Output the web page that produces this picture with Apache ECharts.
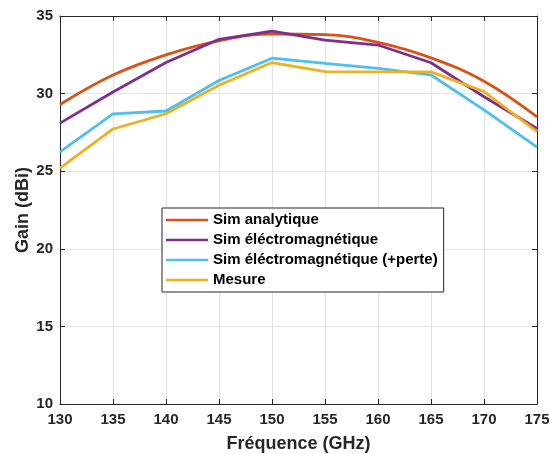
<!DOCTYPE html>
<html>
<head>
<meta charset="utf-8">
<script src="https://cdn.jsdelivr.net/npm/echarts@6/dist/echarts.min.js"></script>
<style>
html,body{margin:0;padding:0;background:#fff;}
#chart{width:550px;height:454px;}
</style>
</head>
<body>
<div id="chart"></div>
<script>
const frequencies = [130, 135, 140, 145, 150, 155, 160, 165, 170, 175];
const simAnalytique = [29.3, 31.2, 32.5, 33.4, 33.84, 33.8, 33.3, 32.3, 30.8, 28.5];
const simEM = [28.1, 30.1, 32.0, 33.5, 34.03, 33.45, 33.13, 31.99, 29.8, 27.75];
const simEMPerte = [26.25, 28.7, 28.88, 30.84, 32.28, 31.95, 31.63, 31.2, 28.95, 26.55];
const mesure = [25.2, 27.72, 28.7, 30.54, 32.0, 31.41, 31.4, 31.4, 30.13, 27.55];
const seriesNames = ['Sim analytique', 'Sim éléctromagnétique', 'Sim éléctromagnétique (+perte)', 'Mesure'];
const seriesColors = ['#D95319', '#7E2F8E', '#4DBEEE', '#EDB120'];
const xTitle = 'Fréquence (GHz)';
const yTitle = 'Gain (dBi)';

const FONT = '"Liberation Sans", Arial, sans-serif';
const chart = echarts.init(document.getElementById('chart'));

function pairs(arr) { return frequencies.map((f, i) => [f, arr[i]]); }

const allData = [simAnalytique, simEM, simEMPerte, mesure];

const baseAxis = {
  axisLine: { show: true, lineStyle: { color: '#262626', width: 1 } },
  axisTick: { show: true, inside: true, length: 5, lineStyle: { color: '#262626', width: 1 } }
};

chart.setOption({
  animation: false,
  backgroundColor: '#fff',
  grid: { left: 60, right: 13, top: 16, bottom: 50, containLabel: false, outerBoundsMode: 'none' },
  legend: {
    orient: 'vertical',
    left: 162,
    top: 208,
    data: seriesNames,
    itemWidth: 42,
    itemHeight: 16,
    itemGap: 4,
    padding: [4, 6, 4, 4],
    backgroundColor: '#fff',
    borderColor: '#262626',
    borderWidth: 1,
    icon: 'path://M0,7 L42,7 L42,9.5 L0,9.5 Z',
    textStyle: { fontFamily: FONT, fontWeight: 'bold', fontSize: 15, color: '#000', lineHeight: 16 }
  },
  xAxis: [
    Object.assign({}, baseAxis, {
      type: 'value', min: 130, max: 175, interval: 5, position: 'bottom',
      name: xTitle, nameLocation: 'middle', nameGap: 31, nameMoveOverlap: false,
      nameTextStyle: { fontFamily: FONT, fontWeight: 'bold', fontSize: 18, color: '#262626' },
      axisLabel: { margin: 8, fontFamily: FONT, fontWeight: 'bold', fontSize: 15, color: '#262626' },
      splitLine: { show: true, lineStyle: { color: '#e3e3e3', width: 1 } }
    }),
    Object.assign({}, baseAxis, {
      type: 'value', min: 130, max: 175, interval: 5, position: 'top',
      axisLabel: { show: false }, splitLine: { show: false }
    })
  ],
  yAxis: [
    Object.assign({}, baseAxis, {
      type: 'value', min: 10, max: 35, interval: 5, position: 'left',
      name: yTitle, nameLocation: 'middle', nameGap: 28, nameRotate: 90, nameMoveOverlap: false,
      nameTextStyle: { fontFamily: FONT, fontWeight: 'bold', fontSize: 18, color: '#262626' },
      axisLabel: { margin: 7, fontFamily: FONT, fontWeight: 'bold', fontSize: 15, color: '#262626' },
      splitLine: { show: true, lineStyle: { color: '#e3e3e3', width: 1 } }
    }),
    Object.assign({}, baseAxis, {
      type: 'value', min: 10, max: 35, interval: 5, position: 'right',
      axisLabel: { show: false }, splitLine: { show: false }
    })
  ],
  series: seriesNames.map((name, i) => ({
    name: name,
    type: 'line',
    data: pairs(allData[i]),
    xAxisIndex: 0,
    yAxisIndex: 0,
    smooth: i === 0 ? 0.4 : false,
    showSymbol: false,
    symbol: 'none',
    color: seriesColors[i],
    lineStyle: { color: seriesColors[i], width: 2.8 },
    itemStyle: { color: seriesColors[i] }
  }))
});
</script>
</body>
</html>
